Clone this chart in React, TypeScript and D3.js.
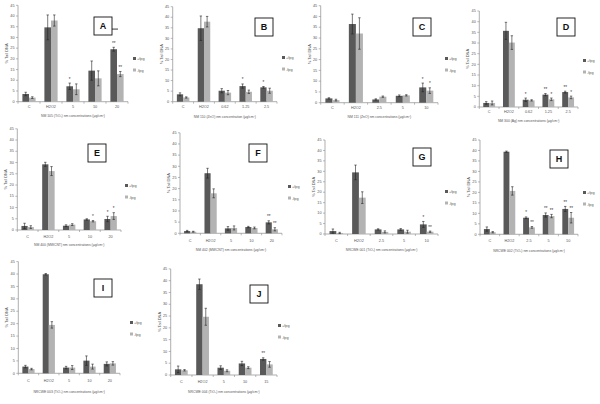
import React from "react";
import * as d3 from "d3";

// y ticks shared by all panels
const yTicks = [0, 5, 10, 15, 20, 25, 30, 35, 40, 45];
const seriesNames = ["+fpg", "-fpg"];

// A - NM 105
const catsA = ["C", "H2O2", "5", "10", "20"];
const plusA = [3.6, 34.7, 7.2, 14.5, 24.5];
const minusA = [1.9, 37.9, 5.8, 10.9, 12.9];
const plusErrA = [0.8, 5.8, 1.5, 4.5, 0.9];
const minusErrA = [0.4, 2.6, 2.5, 3.5, 1.2];
const plusSigA = ["", "", "*", "", "**"];
const minusSigA = ["", "", "", "", "**"];

// B - NM 110
const catsB = ["C", "H2O2", "0.62", "1.25", "2.5"];
const plusB = [3.5, 34.8, 5.2, 7.4, 6.8];
const minusB = [2.0, 37.9, 4.3, 4.7, 5.2];
const plusErrB = [0.7, 5.8, 1.0, 1.0, 0.4];
const minusErrB = [0.3, 2.5, 1.0, 0.8, 1.2];
const plusSigB = ["", "", "", "*", "*"];
const minusSigB = ["", "", "", "", ""];

// C - NM 111
const catsC = ["C", "H2O2", "2.5", "5", "10"];
const plusC = [2.0, 36.5, 1.5, 3.2, 7.1];
const minusC = [1.2, 32.1, 2.8, 3.4, 5.6];
const plusErrC = [0.3, 4.6, 0.3, 0.4, 2.0];
const minusErrC = [0.4, 7.3, 0.3, 0.3, 1.3];
const plusSigC = ["", "", "", "", "*"];
const minusSigC = ["", "", "", "", "*"];

// D - NM 300
const catsD = ["C", "H2O2", "0.62", "1.25", "2.5"];
const plusD = [1.9, 35.7, 3.4, 5.8, 7.0];
const minusD = [1.9, 30.2, 3.1, 3.6, 4.5];
const plusErrD = [0.6, 4.0, 0.8, 0.5, 0.4];
const minusErrD = [0.9, 3.2, 0.3, 0.6, 0.6];
const plusSigD = ["", "", "*", "**", "**"];
const minusSigD = ["", "", "", "*", "*"];

// E - NM 400
const catsE = ["C", "H2O2", "5", "10", "20"];
const plusE = [1.8, 29.2, 1.9, 4.7, 4.9];
const minusE = [1.3, 26.2, 2.4, 3.9, 6.2];
const plusErrE = [1.2, 0.9, 0.4, 0.3, 1.2];
const minusErrE = [0.6, 2.0, 0.4, 0.3, 1.5];
const plusSigE = ["", "", "", "", "*"];
const minusSigE = ["", "", "", "*", "*"];

// F - NM 402
const catsF = ["C", "H2O2", "5", "10", "20"];
const plusF = [1.0, 26.9, 2.2, 2.8, 4.9];
const minusF = [0.7, 17.9, 2.4, 2.4, 1.8];
const plusErrF = [0.3, 2.2, 0.8, 0.3, 0.7];
const minusErrF = [0.2, 2.0, 0.9, 0.4, 0.7];
const plusSigF = ["", "", "", "", "**"];
const minusSigF = ["", "", "", "", "**"];

// G - NRCWE 001
const catsG = ["C", "H2O2", "2.5", "5", "10"];
const plusG = [1.4, 29.5, 2.2, 2.2, 4.6];
const minusG = [0.5, 17.4, 1.0, 1.1, 1.1];
const plusErrG = [1.0, 3.5, 0.3, 0.4, 1.4];
const minusErrG = [0.3, 2.8, 0.5, 0.7, 0.3];
const plusSigG = ["", "", "", "", "*"];
const minusSigG = ["", "", "", "", "**"];

// H - NRCWE 002
const catsH = ["C", "H2O2", "2.5", "5", "10"];
const plusH = [2.5, 39.4, 7.9, 9.2, 12.1];
const minusH = [1.0, 20.7, 3.3, 8.7, 7.9];
const plusErrH = [1.0, 0.3, 0.4, 1.0, 1.2];
const minusErrH = [0.3, 2.0, 0.4, 0.8, 2.5];
const plusSigH = ["", "", "*", "**", "**"];
const minusSigH = ["", "", "**", "**", "**"];

// I - NRCWE 003
const catsI = ["C", "H2O2", "5", "10", "20"];
const plusI = [2.7, 39.9, 2.3, 5.1, 3.8];
const minusI = [1.7, 19.5, 2.3, 2.7, 4.0];
const plusErrI = [0.5, 0.3, 0.5, 1.9, 0.8];
const minusErrI = [0.3, 1.3, 0.8, 1.0, 0.7];
const plusSigI = ["", "", "", "", ""];
const minusSigI = ["", "", "", "", ""];

// J - NRCWE 004
const catsJ = ["C", "H2O2", "5", "10", "15"];
const plusJ = [2.4, 38.5, 3.1, 4.9, 6.8];
const minusJ = [2.0, 24.7, 1.8, 3.1, 4.5];
const plusErrJ = [1.4, 2.2, 0.8, 0.9, 0.5];
const minusErrJ = [0.3, 3.6, 0.4, 0.4, 1.2];
const plusSigJ = ["", "", "", "", "**"];
const minusSigJ = ["", "", "", "", ""];

const titles = [
  "NM 105 (TiO\u2082) nm concentrations (\u00b5g/cm\u00b2)",
  "NM 110 (ZnO) nm concentration (\u00b5g/cm\u00b2)",
  "NM 111 (ZnO) nm concentrations (\u00b5g/cm\u00b2)",
  "NM 300 (Ag) nm concentrations (\u00b5g/cm\u00b2)",
  "NM 400 (MWCNT) nm concentrations (\u00b5g/cm\u00b2)",
  "NM 402 (MWCNT) nm concentrations (\u00b5g/cm\u00b2)",
  "NRCWE 001 (TiO\u2082) nm concentrations (\u00b5g/cm\u00b2)",
  "NRCWE 002 (TiO\u2082) nm concentrations (\u00b5g/cm\u00b2)",
  "NRCWE 003 (TiO\u2082) nm concentrations (\u00b5g/cm\u00b2)",
  "NRCWE 004 (TiO\u2082) nm concentrations (\u00b5g/cm\u00b2)",
];

// layout of each small chart (pixel positions on the page)
const layout = [
  { id: "A", x0: 18, x1: 128, yTop: 5.3, yBot: 101.7, lx: 133, ly: 60, bx: 94, by: 17, catY: 108, titleY: 117 },
  { id: "B", x0: 172.7, x1: 277, yTop: 6.7, yBot: 101.7, lx: 282, ly: 59, bx: 255, by: 18, catY: 108, titleY: 118 },
  { id: "C", x0: 320.7, x1: 438, yTop: 5.7, yBot: 102.7, lx: 445, ly: 60, bx: 413, by: 18, catY: 109, titleY: 118 },
  { id: "D", x0: 479.3, x1: 578, yTop: 11, yBot: 107, lx: 583, ly: 62, bx: 557, by: 18, catY: 113, titleY: 122 },
  { id: "E", x0: 17.3, x1: 121, yTop: 128.8, yBot: 230, lx: 125, ly: 187, bx: 88, by: 144, catY: 238, titleY: 246 },
  { id: "F", x0: 180, x1: 282, yTop: 132.8, yBot: 233.3, lx: 288, ly: 188, bx: 249, by: 144, catY: 242, titleY: 251 },
  { id: "G", x0: 325, x1: 438, yTop: 140, yBot: 234, lx: 445, ly: 193, bx: 413, by: 148, catY: 242, titleY: 251 },
  { id: "H", x0: 480, x1: 578, yTop: 140, yBot: 234.3, lx: 583, ly: 194, bx: 550, by: 150, catY: 242, titleY: 252 },
  { id: "I", x0: 18.3, x1: 120, yTop: 261.6, yBot: 373.3, lx: 130, ly: 324, bx: 94, by: 279, catY: 382, titleY: 393 },
  { id: "J", x0: 170.7, x1: 277, yTop: 268.9, yBot: 375, lx: 278, ly: 327, bx: 250, by: 285, catY: 383, titleY: 393 },
];

const panelData = [
  [catsA, plusA, minusA, plusErrA, minusErrA, plusSigA, minusSigA],
  [catsB, plusB, minusB, plusErrB, minusErrB, plusSigB, minusSigB],
  [catsC, plusC, minusC, plusErrC, minusErrC, plusSigC, minusSigC],
  [catsD, plusD, minusD, plusErrD, minusErrD, plusSigD, minusSigD],
  [catsE, plusE, minusE, plusErrE, minusErrE, plusSigE, minusSigE],
  [catsF, plusF, minusF, plusErrF, minusErrF, plusSigF, minusSigF],
  [catsG, plusG, minusG, plusErrG, minusErrG, plusSigG, minusSigG],
  [catsH, plusH, minusH, plusErrH, minusErrH, plusSigH, minusSigH],
  [catsI, plusI, minusI, plusErrI, minusErrI, plusSigI, minusSigI],
  [catsJ, plusJ, minusJ, plusErrJ, minusErrJ, plusSigJ, minusSigJ],
];

const colors = ["#595959", "#b3b3b3"];
const axisColor = "#8c8c8c";
const textColor = "#555";
const font = "Arial, 'Liberation Sans', sans-serif";

function Panel({ idx }: { idx: number }) {
  const L = layout[idx];
  const [cats, plus, minus, plusErr, minusErr, plusSig, minusSig] = panelData[idx] as any;
  const x = d3.scaleBand<string>().domain(cats).range([L.x0, L.x1]).paddingInner(0.4).paddingOuter(0.2);
  const xs = d3.scaleBand<string>().domain(seriesNames).range([0, x.bandwidth()]);
  const y = d3.scaleLinear().domain([0, 45]).range([L.yBot, L.yTop]);
  const step = x.step();
  const series = [
    { vals: plus, errs: plusErr, sig: plusSig },
    { vals: minus, errs: minusErr, sig: minusSig },
  ];

  return (
    <g fontFamily={font}>
      {/* y axis */}
      <line x1={L.x0} x2={L.x0} y1={L.yTop} y2={L.yBot} stroke={axisColor} strokeWidth={0.7} />
      {yTicks.map((t) => (
        <g key={t}>
          <line x1={L.x0 - 2} x2={L.x0} y1={y(t)} y2={y(t)} stroke={axisColor} strokeWidth={0.6} />
          <text x={L.x0 - 3.5} y={y(t) + 1.2} fontSize={3.8} textAnchor="end" fill={textColor}>{t}</text>
        </g>
      ))}
      <text
        transform={`translate(${L.x0 - 10},${(L.yTop + L.yBot) / 2}) rotate(-90)`}
        fontSize={4}
        textAnchor="middle"
        fill={textColor}
      >% Tail DNA</text>
      {/* x axis */}
      <line x1={L.x0} x2={L.x1} y1={L.yBot} y2={L.yBot} stroke={axisColor} strokeWidth={0.7} />
      {cats.map((c: string, i: number) => (
        <g key={c + i}>
          <line x1={L.x0 + step * (i + 1)} x2={L.x0 + step * (i + 1)} y1={L.yBot} y2={L.yBot + 2} stroke={axisColor} strokeWidth={0.6} />
          <text x={(x(c) as number) + x.bandwidth() / 2} y={L.catY} fontSize={3.8} textAnchor="middle" fill={textColor}>{c}</text>
        </g>
      ))}
      <line x1={L.x0} x2={L.x0} y1={L.yBot} y2={L.yBot + 2} stroke={axisColor} strokeWidth={0.6} />
      <text x={(L.x0 + L.x1) / 2} y={L.titleY} fontSize={3.4} textAnchor="middle" fill={textColor}>{titles[idx]}</text>
      {/* bars */}
      {series.map((s, si) =>
        cats.map((c: string, i: number) => {
          const bx = (x(c) as number) + (xs(seriesNames[si]) as number);
          const bw = xs.bandwidth();
          const cx = bx + bw / 2;
          const v = s.vals[i];
          const e = s.errs[i];
          return (
            <g key={si + "-" + i}>
              <rect x={bx} y={y(v)} width={bw} height={L.yBot - y(v)} fill={colors[si]} />
              <line x1={cx} x2={cx} y1={y(v + e)} y2={y(Math.max(0, v - e))} stroke="#222" strokeWidth={0.6} />
              <line x1={cx - 1.2} x2={cx + 1.2} y1={y(v + e)} y2={y(v + e)} stroke="#222" strokeWidth={0.6} />
              <line x1={cx - 1.2} x2={cx + 1.2} y1={y(Math.max(0, v - e))} y2={y(Math.max(0, v - e))} stroke="#222" strokeWidth={0.6} />
              {s.sig[i] ? (
                <text x={cx} y={y(v + e) - 2.5} fontSize={4.5} textAnchor="middle" fill="#333">{s.sig[i]}</text>
              ) : null}
            </g>
          );
        })
      )}
      {/* significance line in panel A */}
      {L.id === "A" ? (
        <line
          x1={(x("20") as number) - 1}
          x2={(x("20") as number) + x.bandwidth() / 2 + 1}
          y1={y(v2top(plus[4], plusErr[4]) + 8.5)}
          y2={y(v2top(plus[4], plusErr[4]) + 8.5)}
          stroke="#222"
          strokeWidth={0.9}
        />
      ) : null}
      {/* legend */}
      {seriesNames.map((n, si) => (
        <g key={n}>
          <rect x={L.lx} y={L.ly + si * 11.5 - 3} width={3} height={3} fill={colors[si]} />
          <text x={L.lx + 4} y={L.ly + si * 11.5} fontSize={3.8} fill={textColor}>{n}</text>
        </g>
      ))}
      {/* label box */}
      <rect x={L.bx} y={L.by} width={18} height={18} fill="#fff" stroke="#111" strokeWidth={0.9} />
      <text x={L.bx + 9} y={L.by + 12.3} fontSize={9} fontWeight="bold" textAnchor="middle" fill="#111">{L.id}</text>
    </g>
  );
}

function v2top(v: number, e: number) {
  return v + e;
}

export default function App() {
  return (
    <svg
      width={600}
      height={404}
      style={{ position: "absolute", left: 0, top: 0, background: "#fff" }}
    >
      <rect width={600} height={404} fill="#fff" />
      {layout.map((_, i) => (
        <Panel key={i} idx={i} />
      ))}
    </svg>
  );
}
